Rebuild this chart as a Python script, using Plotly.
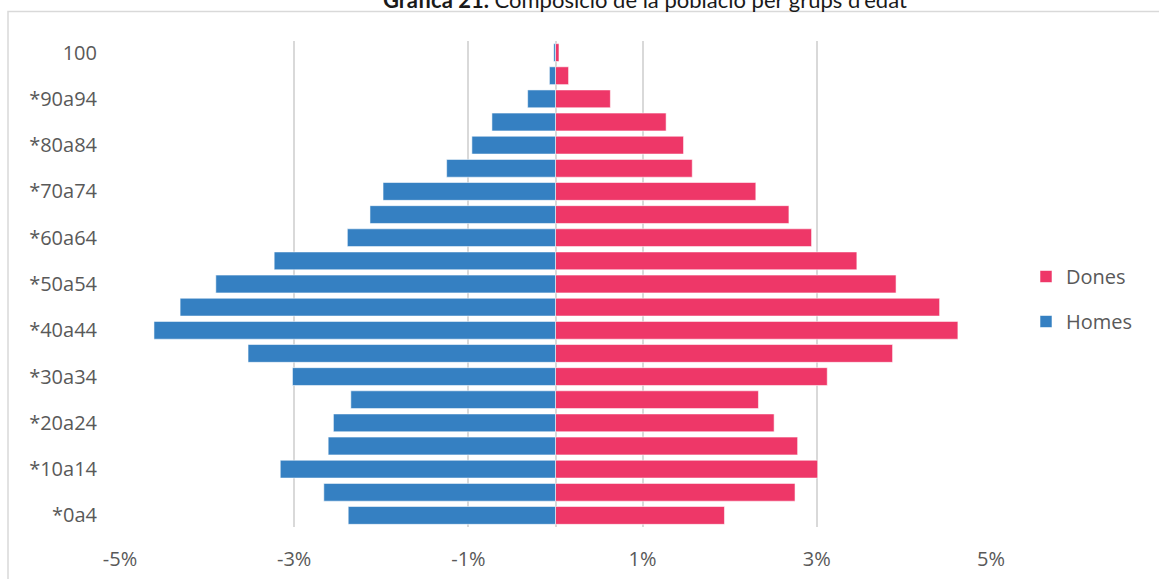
import plotly.graph_objects as go

# Age groups, youngest at the bottom
age_groups = ["*0a4", "*5a9", "*10a14", "*15a19", "*20a24", "*25a29", "*30a34",
              "*35a39", "*40a44", "*45a49", "*50a54", "*55a59", "*60a64", "*65a69",
              "*70a74", "*75a79", "*80a84", "*85a89", "*90a94", "*95a99", "100"]

# Share of total population (%)
homes = [2.38, 2.66, 3.16, 2.61, 2.55, 2.35, 3.02, 3.53, 4.61, 4.31, 3.90,
         3.23, 2.39, 2.13, 1.98, 1.25, 0.96, 0.73, 0.32, 0.07, 0.02]
dones = [1.94, 2.75, 3.01, 2.78, 2.51, 2.33, 3.12, 3.87, 4.62, 4.41, 3.91,
         3.46, 2.94, 2.68, 2.30, 1.57, 1.47, 1.27, 0.63, 0.15, 0.04]

x_ticks = [-5, -3, -1, 1, 3, 5]
x_tick_text = ["-5%", "-3%", "-1%", "1%", "3%", "5%"]
y_ticks = ["*0a4", "*10a14", "*20a24", "*30a34", "*40a44", "*50a54",
           "*60a64", "*70a74", "*80a84", "*90a94", "100"]

title_bold = "Gràfica 21."
title_rest = " Composició de la població per grups d'edat"

BLUE = "#3580C2"
PINK = "#EE3768"
TEXT = "#595959"
FONT = "Open Sans"

fig = go.Figure()
fig.add_trace(go.Bar(
    y=age_groups, x=dones, name="Dones", orientation="h",
    marker=dict(color=PINK, line=dict(color="rgba(255,255,255,0.55)", width=1)),
    legendgroup="d",
))
fig.add_trace(go.Bar(
    y=age_groups, x=[-v for v in homes], name="Homes", orientation="h",
    marker=dict(color=BLUE, line=dict(color="rgba(255,255,255,0.55)", width=1)),
    legendgroup="h",
))

W, H = 1159, 579
ml, mr, mt, mb = 120, 168, 41, 52
pw, ph = W - ml - mr, H - mt - mb

def px_x(p):
    return (p - ml) / pw

def px_y(p):
    return (H - mb - p) / ph

fig.update_layout(
    width=W, height=H,
    margin=dict(l=ml, r=mr, t=mt, b=mb, autoexpand=False),
    paper_bgcolor="white", plot_bgcolor="white",
    barmode="overlay", bargap=0.23,
    font=dict(family=FONT, size=20, color=TEXT),
    showlegend=True,
    legend=dict(
        x=px_x(1026), y=px_y(299), xanchor="left", yanchor="middle",
        traceorder="grouped", tracegroupgap=16,
        font=dict(family=FONT, size=20, color=TEXT),
        bgcolor="rgba(0,0,0,0)",
    ),
    xaxis=dict(
        range=[-5, 5], tickvals=x_ticks, ticktext=x_tick_text,
        showgrid=True, gridcolor="#D9D9D9", gridwidth=1.5,
        zeroline=True, zerolinecolor="#D9D9D9", zerolinewidth=1.5,
        showline=False, ticks="", ticklabelstandoff=18,
        automargin=False, fixedrange=True,
    ),
    yaxis=dict(
        type="category", categoryorder="array", categoryarray=age_groups,
        tickvals=y_ticks, showgrid=False, zeroline=False, showline=False,
        ticks="", ticklabelstandoff=22, automargin=False, fixedrange=True,
    ),
    annotations=[dict(
        text=f"<b>{title_bold}</b>{title_rest}",
        xref="paper", yref="paper", x=px_x(645), y=px_y(15),
        xanchor="center", yanchor="bottom", showarrow=False,
        font=dict(family="Lato", size=22, color="#1a1a1a"),
    )],
    shapes=[dict(
        type="rect", xref="paper", yref="paper",
        x0=px_x(8), x1=px_x(1175), y0=px_y(595), y1=px_y(11.5),
        line=dict(color="#D9D9D9", width=1.5), fillcolor="rgba(0,0,0,0)",
        layer="below",
    )],
)

fig.write_html("out.html")
